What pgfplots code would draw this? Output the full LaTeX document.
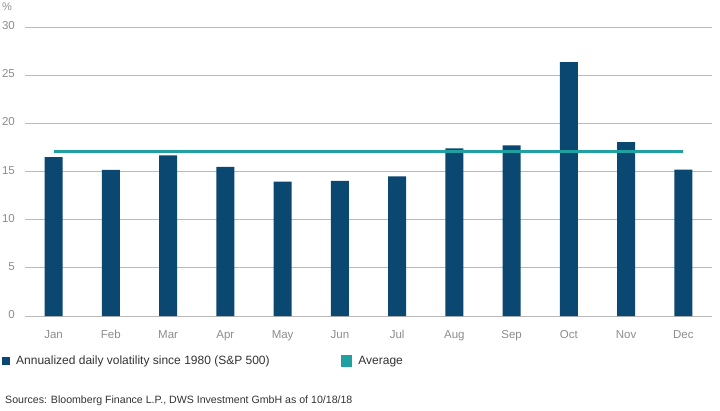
\documentclass[border=0pt]{standalone}
\usepackage{fontspec}
\setmainfont{Liberation Sans}
\usepackage{pgfplots}
\pgfplotsset{compat=1.18}
\definecolor{barblue}{RGB}{10,72,114}
\definecolor{avgteal}{RGB}{32,160,160}
\definecolor{tickgray}{RGB}{140,140,140}
\definecolor{gridgray}{RGB}{185,185,185}
\definecolor{txt}{RGB}{50,50,50}
\begin{document}
\begin{tikzpicture}[x=1pt,y=1pt]
\useasboundingbox (0,0) rectangle (720,410);
\begin{axis}[
  at={(25pt,94pt)}, anchor=south west,
  scale only axis, width=687pt, height=289pt,
  xmin=-0.5, xmax=11.5, ymin=0, ymax=30,
  xtick={0,...,11},
  xticklabels={Jan,Feb,Mar,Apr,May,Jun,Jul,Aug,Sep,Oct,Nov,Dec},
  ytick={0,5,...,30},
  ymajorgrids, grid style={color=gridgray, line width=0.9pt},
  axis line style={draw=none},
  major tick length=0pt,
  /pgf/number format/assume math mode=true,
  tick label style={font=\fontsize{11.5}{13}\selectfont, text=tickgray},
  yticklabel style={anchor=mid east, inner sep=0pt, xshift=-10pt},
  xticklabel style={anchor=base, inner sep=0pt, yshift=-22pt},
  legend columns=2,
  legend style={draw=none, fill=none, inner sep=0pt, outer sep=0pt,
    at={(-0.0339,-0.1557)}, anchor=west,
    font=\fontsize{12}{13}\selectfont, text=txt,
    nodes={inner sep=0pt},
    /tikz/every odd column/.append style={column sep=6pt},
    /tikz/every even column/.append style={column sep=0pt}},
  legend cell align=left,
]
\addplot[ybar, bar width=18pt, fill=barblue, draw=none,
  legend image code/.code={\fill[barblue] (0pt,-4.25pt) rectangle (8.5pt,4.25pt);}]
  coordinates {(0,16.5) (1,15.16) (2,16.68) (3,15.47) (4,13.96) (5,14.02)
               (6,14.5) (7,17.4) (8,17.7) (9,26.35) (10,18.06) (11,15.2)};
\addlegendentry{\makebox[325pt][l]{Annualized daily volatility since 1980 (S\&P 500)}}
\addplot[avgteal, line width=2.7pt,
  legend image code/.code={\fill[avgteal] (0pt,-4.25pt) rectangle (8.5pt,4.25pt);}]
  coordinates {(0,17.1) (11,17.1)};
\addlegendentry{Average}
\end{axis}
\node[anchor=west, inner sep=0pt, text=tickgray, font=\fontsize{11}{13}\selectfont] at (2,403) {\%};
\node[anchor=west, inner sep=0pt, text=txt, font=\fontsize{10.6}{13}\selectfont] at (5,9) {Sources: Bloomberg Finance L.P., DWS Investment GmbH as of 10/18/18};
\end{tikzpicture}
\end{document}
